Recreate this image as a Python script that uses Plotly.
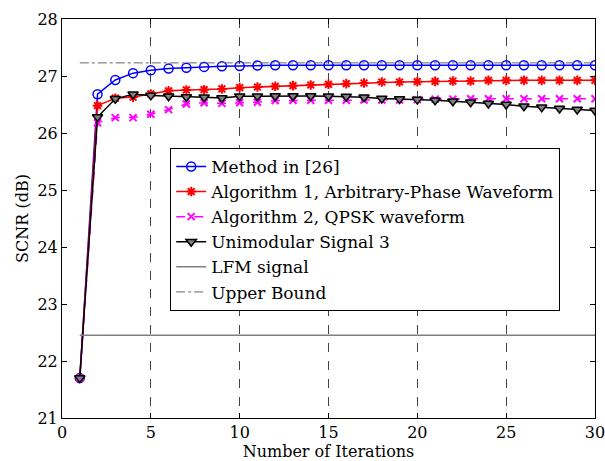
import plotly.graph_objects as go

iterations = list(range(1, 31))

method26 = [21.70, 26.68, 26.93, 27.05, 27.10, 27.13, 27.145, 27.16, 27.17, 27.175,
            27.185, 27.19, 27.19, 27.19, 27.19, 27.19, 27.19, 27.19, 27.19, 27.19,
            27.19, 27.19, 27.19, 27.19, 27.19, 27.19, 27.19, 27.19, 27.19, 27.19]

alg1 = [21.70, 26.48, 26.61, 26.63, 26.685, 26.74, 26.755, 26.76, 26.773, 26.796,
        26.807, 26.819, 26.831, 26.842, 26.854, 26.866, 26.877, 26.895, 26.895, 26.901,
        26.906, 26.912, 26.912, 26.924, 26.924, 26.924, 26.924, 26.924, 26.924, 26.924]

alg2 = [21.70, 26.18, 26.27, 26.27, 26.33, 26.41, 26.51, 26.53, 26.52, 26.53,
        26.54, 26.57, 26.575, 26.575, 26.575, 26.575, 26.58, 26.58, 26.58, 26.585,
        26.595, 26.595, 26.60, 26.60, 26.60, 26.60, 26.60, 26.60, 26.60, 26.60]

signal3 = [21.70, 26.28, 26.60, 26.68, 26.66, 26.645, 26.633, 26.627, 26.615, 26.645,
           26.645, 26.65, 26.65, 26.65, 26.645, 26.639, 26.627, 26.604, 26.598, 26.586,
           26.575, 26.557, 26.54, 26.517, 26.499, 26.47, 26.452, 26.429, 26.412, 26.394]

lfm_x = [1, 30]
lfm = [22.45, 22.45]
upper_x = [1, 30]
upper = [27.23, 27.23]

x_ticks = [0, 5, 10, 15, 20, 25, 30]
y_ticks = [21, 22, 23, 24, 25, 26, 27, 28]

FONT = "DejaVu Serif"

fig = go.Figure()
fig.add_trace(go.Scatter(x=iterations, y=method26, name="Method in [26]", mode="lines+markers",
                         line=dict(color="#0000ff", width=1.5),
                         marker=dict(symbol="circle-open", size=9, color="#0000ff", line=dict(width=1.5))))
fig.add_trace(go.Scatter(x=iterations, y=alg1, name="Algorithm 1, Arbitrary-Phase Waveform", mode="lines+markers",
                         line=dict(color="#ff0000", width=1.5),
                         marker=dict(symbol="asterisk-open", size=8, color="#ff0000", line=dict(width=2, color="#ff0000"))))
fig.add_trace(go.Scatter(x=iterations, y=alg2, name="Algorithm 2, QPSK waveform", mode="lines+markers",
                         line=dict(color="#ff00ff", width=1.5, dash="dash"),
                         marker=dict(symbol="x-thin-open", size=7, color="#ff00ff", line=dict(width=2, color="#ff00ff"))))
fig.add_trace(go.Scatter(x=iterations, y=signal3, name="Unimodular Signal 3", mode="lines+markers",
                         line=dict(color="#000000", width=1.5),
                         marker=dict(symbol="triangle-down", size=9, color="#808080", line=dict(width=1.5, color="#000000"))))
fig.add_trace(go.Scatter(x=lfm_x, y=lfm, name="LFM signal", mode="lines",
                         line=dict(color="#808080", width=1.5)))
fig.add_trace(go.Scatter(x=upper_x, y=upper, name="Upper Bound", mode="lines",
                         line=dict(color="#666666", width=1, dash="dashdot")))

axis_common = dict(showline=True, linecolor="black", linewidth=1, mirror="ticks",
                   ticks="inside", ticklen=5, tickcolor="black", zeroline=False,
                   automargin=False, ticklabeloverflow="allow",
                   tickfont=dict(family=FONT, size=16, color="black"))

fig.update_xaxes(range=[0, 30], tickvals=x_ticks, showgrid=True, gridcolor="#444444",
                 griddash="dash", gridwidth=1,
                 title=dict(text="Number of Iterations", font=dict(family=FONT, size=16, color="black"), standoff=0),
                 **axis_common)
fig.update_yaxes(range=[21, 28], tickvals=y_ticks, showgrid=False,
                 title=dict(text="SCNR (dB)", font=dict(family=FONT, size=16, color="black"), standoff=4),
                 **axis_common)

fig.update_layout(
    width=605, height=461,
    margin=dict(l=62, r=10, t=19, b=43),
    paper_bgcolor="white", plot_bgcolor="white",
    font=dict(family=FONT, size=16, color="black"),
    legend=dict(x=0.203, y=0.677, xanchor="left", yanchor="top",
                bgcolor="white", bordercolor="black", borderwidth=1,
                font=dict(family=FONT, size=17, color="black"),
                itemwidth=30, tracegroupgap=0),
)

fig.write_html("out.html")
